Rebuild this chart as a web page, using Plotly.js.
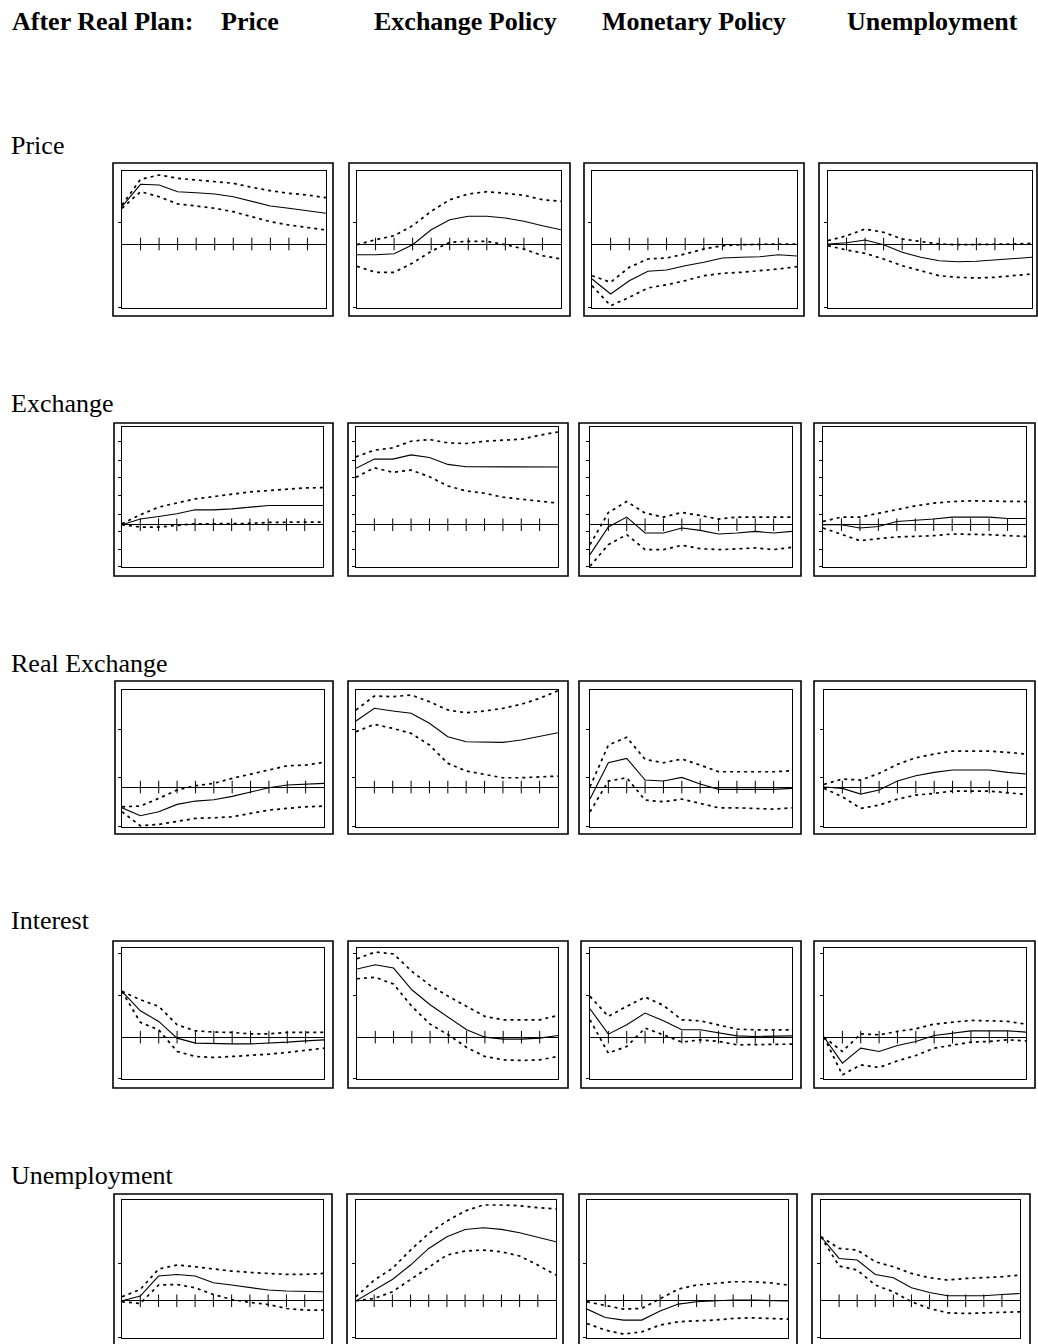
<!DOCTYPE html>
<html>
<head>
<meta charset="utf-8">
<script src="https://cdn.plot.ly/plotly-3.0.1.min.js"></script>
<style>
  html, body { margin: 0; padding: 0; background: #fff; }
  #chart { width: 1038px; height: 1344px; }
</style>
</head>
<body>
<div id="chart"></div>
<script>
// ---------------- DATA ----------------
const periods = [0, 1, 2, 3, 4, 5, 6, 7, 8, 9, 10, 11];
const zeroTicks = [1, 2, 3, 4, 5, 6, 7, 8, 9, 10];
const shockTitles = ["Price", "Exchange Policy", "Monetary Policy", "Unemployment"];
const variableNames = ["Price", "Exchange", "Real Exchange", "Interest", "Unemployment"];
const titlePrefix = "After Real Plan:";

// responses (point estimate, upper band, lower band); one array per shock (column)
const priceMid = [
  [37.3, 59.7, 59, 52.3, 51.3, 50, 47.3, 42.3, 38, 35.7, 33.3, 30.7],
  [-10.7, -10.7, -9.7, -0.7, 14.3, 24.3, 27.7, 27.7, 26, 22.7, 18.3, 14.3],
  [-35, -50, -36.7, -27.3, -26, -21.7, -18.3, -14, -13.3, -12.7, -10.7, -12],
  [0, 1.3, 4, -0.7, -8.3, -13.3, -16.7, -17.7, -17.3, -16, -15, -13.3]
];
const priceUp = [
  [39, 64.7, 69, 65.7, 64, 62.3, 60.7, 56.7, 53.3, 50.7, 49, 46.3],
  [-0.7, 4.3, 8.3, 18.3, 32.7, 44.3, 50, 52.3, 50.7, 48.7, 44.3, 42.7],
  [-31.7, -38.3, -23.3, -15, -14, -10, -5, -1.7, -0.7, 0, 0, 0],
  [3.3, 8.3, 15, 11.7, 5, 2.7, 0, -0.7, -0.7, -0.7, 0, 0.7]
];
const priceLo = [
  [35.7, 52.3, 47.3, 40, 38, 35.7, 32.3, 27.3, 22.3, 19, 16.3, 14],
  [-22.3, -28.3, -28.3, -19, -7.3, 1.7, 2.7, 2.7, -0.7, -5, -11.7, -15],
  [-41.7, -61.7, -53.3, -44, -40.7, -36.7, -31.7, -29.3, -28.3, -26.7, -25, -22.7],
  [-1.7, -6, -9.3, -15, -21.7, -26.7, -31.7, -33.3, -34, -33.3, -31.7, -30]
];

const exchMid = [
  [0, 5.7, 8.3, 11, 15, 15, 16, 17.7, 19.3, 19.3, 19.3, 19.3],
  [56.7, 66, 66, 70.3, 67.7, 60.7, 58.3, 58.3, 57.7, 57.7, 58, 58],
  [-30, -2.3, 7.7, -8.3, -8.3, -3.3, -5.7, -9.3, -8.3, -6.7, -8.3, -6.7],
  [0, 0, -3.3, -1.7, 3.3, 4.3, 5.7, 7.7, 7.7, 7.7, 6.3, 6.3]
];
const exchUp = [
  [1, 10, 17.7, 21.7, 26, 28.3, 31, 33, 34.3, 36, 37, 37.3],
  [68.3, 75, 77.3, 84, 85.7, 82.3, 81.7, 84, 85, 86, 90, 93.3],
  [-20, 12.3, 23.3, 11.7, 7.7, 12.3, 9.3, 5.7, 7.7, 7.7, 7.7, 7.7],
  [3.3, 7.7, 7.7, 11.7, 15.7, 19, 21.7, 23.3, 24, 24, 23.3, 23.3]
];
const exchLo = [
  [0, -2.3, -2.3, -1, 1, 1, 1, 1.3, 2.3, 2.7, 2.7, 2.7],
  [47.7, 57.3, 52.7, 55, 48.3, 39, 34, 31.7, 27.7, 25.7, 23.3, 21.7],
  [-41.7, -20, -10, -25, -25, -20.7, -24, -25, -24.3, -23.3, -25, -22.7],
  [-3.3, -10, -16, -14, -12.3, -11.7, -11, -9.3, -9.3, -10, -11, -11.7]
];

const realMid = [
  [-20.7, -28.7, -24.7, -17.3, -14, -12.7, -9.3, -5.3, -0.7, 2, 2.7, 3.7],
  [66, 78.7, 76, 73.7, 63.7, 50.3, 45.3, 44.7, 44.7, 47, 50.3, 54.3],
  [-12, 24.3, 28.7, 7, 6, 9.7, 3, -2.3, -2.3, -2.3, -2.3, -1.3],
  [0, -1.3, -7, -3, 6, 11.3, 14.7, 17, 17, 17, 14.7, 13]
];
const realUp = [
  [-19.7, -19, -11.3, -3, 1.3, 3.7, 8.7, 12.7, 17, 21.3, 22, 24.7],
  [77, 91, 90.3, 92, 85.3, 77, 74.3, 76, 78.7, 82.7, 88.7, 96.3],
  [0.3, 42, 49.7, 27.7, 24.3, 28, 22, 15.3, 15.3, 15.3, 15.3, 16.3],
  [2.7, 8, 7, 13.7, 22.7, 29.3, 33, 36, 36, 36, 34.7, 33]
];
const realLo = [
  [-24.7, -38.7, -37.3, -34, -31.3, -30.7, -29.7, -26.3, -23, -21.3, -19.7, -19],
  [55.3, 62.7, 58.7, 53.7, 42, 23.7, 16, 12.7, 9.3, 9.3, 10.3, 11],
  [-24.7, 6, 9.3, -13, -14.7, -12, -16.3, -20.7, -20.7, -21.3, -22, -20.7],
  [-1.3, -9.7, -21.3, -18, -12, -8, -6.3, -4, -4, -4, -5.7, -7.3]
];

const interestMid = [
  [45.7, 26.3, 15.7, -1, -6, -6.7, -6.7, -6.7, -6, -5, -3.7, -2.7],
  [68, 72.3, 69, 47.3, 32.3, 19.7, 7.3, 0, -2, -2, -1, 1.7],
  [28.3, 3, 12.3, 24, 16.3, 7.3, 7.3, 4, 1.3, 0.7, 1.3, 1.3],
  [0, -26, -11, -14.3, -8.3, -4.3, 1.7, 4, 6.3, 6.3, 6.3, 5]
];
const interestUp = [
  [45.7, 37.3, 30.7, 12.3, 6.3, 5, 4.7, 3.3, 3.3, 4.7, 4.7, 4.7],
  [78.3, 85, 83, 65.7, 51.7, 40.7, 30.7, 20.7, 17.3, 17.3, 17.3, 21.7],
  [40.7, 20.7, 30.7, 40, 31.7, 17.3, 16.3, 12.3, 8, 7.3, 7.3, 7.3],
  [0, -14.3, 3.3, 2.3, 5.7, 8.3, 13, 15, 16.7, 16.3, 15.7, 13]
];
const interestLo = [
  [45.7, 14.7, 7.3, -14.3, -19.3, -20.3, -19.3, -18.3, -17, -15.3, -13.3, -11],
  [58.3, 59.7, 53, 30.7, 13, 2.3, -10.3, -19.3, -22.7, -23.3, -22.7, -19.3],
  [17.3, -16, -9.3, 9, 2.3, -5, -2.7, -4.3, -7.7, -7.7, -7, -7],
  [0, -37.7, -27.7, -30.3, -23.7, -18.3, -11, -7.7, -5, -4.3, -2.7, -3.7]
];

const unempMid = [
  [0, 4.7, 24.7, 26.3, 24.7, 18, 15.7, 13.3, 10.7, 9.7, 9, 9],
  [0, 10.7, 21.3, 35.7, 52.3, 64, 71.3, 73, 71.3, 68, 63.3, 59],
  [-8.3, -16.7, -19.3, -19.3, -10.3, -3.3, -1, 0, 0.7, 0.7, 0, -0.3],
  [64, 42.3, 40.7, 26.3, 23, 13, 8.3, 5, 5, 5, 6.3, 7.3]
];
const unempUp = [
  [4, 11.3, 31.7, 35.7, 34, 31.7, 29.7, 28.3, 27.3, 26.3, 26.3, 27.3],
  [4, 20.7, 32.3, 50.7, 67.3, 79.7, 89.7, 95.7, 95.7, 95, 93, 91.7],
  [-1, -5, -8.3, -7.7, 2.3, 11.7, 15.7, 17.3, 19, 19, 18, 15.7],
  [64, 52.3, 50.7, 39, 34, 27.3, 23, 20.7, 22.3, 23, 24, 25.7]
];
const unempLo = [
  [-1, -2.7, 15.7, 16.3, 13, 6.3, 1.3, -1.7, -3.7, -7.7, -9.3, -9.3],
  [0, 2.3, 9, 21.3, 34, 45.7, 49.7, 50.7, 49, 44.7, 35.7, 25.7],
  [-22.7, -29.3, -33.3, -31, -24.3, -21, -20, -19.3, -17.7, -17, -17.7, -18.3],
  [64, 34.7, 30.7, 15.7, 9, -1, -7.7, -12, -12.7, -12, -11, -11]
];

// y-axis tick values for each variable (row)
const rowTickVals = [
  [21.5, -63.5],
  [83.3, 65, 47.3, 29, 10.7, -6.7, -25, -42.3],
  [58, 9.7, -39.7],
  [84, 42, -41.5],
  [37.3, -37]
];

// ---------------- LAYOUT CONFIG ----------------
const W = 1038, H = 1344;
const rowData = [
  [priceMid, priceUp, priceLo],
  [exchMid, exchUp, exchLo],
  [realMid, realUp, realLo],
  [interestMid, interestUp, interestLo],
  [unempMid, unempUp, unempLo]
];
const rowRanges = [[-64, 73], [-42.5, 98.3], [-39.9, 97], [-41.8, 89], [-37.2, 100.7]];
const innerY = [[171, 308], [427, 567], [690, 827], [948, 1079], [1200, 1338]];
const outerY = [[163, 316], [423, 576], [681, 834], [941, 1088], [1194, 1352]];
const innerX = [
  [[122, 326], [357, 561], [592, 797], [828, 1032]],
  [[122, 323], [356, 558], [590, 792], [823, 1026]],
  [[122, 324], [356, 558], [590, 792], [824, 1026]],
  [[122, 324], [357, 558], [590, 792], [824, 1026]],
  [[122, 323], [356, 556], [587, 788], [821, 1020]]
];
const outerX = [
  [[113, 333], [349, 570], [584, 804], [819, 1037]],
  [[114, 333], [348, 568], [579, 801], [814, 1035]],
  [[115, 333], [348, 568], [579, 801], [814, 1035]],
  [[113, 333], [348, 568], [581, 801], [814, 1035]],
  [[114, 332], [347, 563], [579, 797], [812, 1030]]
];
const rowLabelY = [145, 403, 663, 920, 1175];

const px = v => v / W;
const py = v => 1 - v / H;

const traces = [];
const layout = {
  width: W, height: H,
  margin: { l: 0, r: 0, t: 0, b: 0 },
  paper_bgcolor: '#ffffff',
  plot_bgcolor: '#ffffff',
  showlegend: false,
  hovermode: false,
  shapes: [],
  annotations: []
};

const bandLine = { color: '#000', width: 1.7, dash: '3px,4px' };
const midLine = { color: '#000', width: 1.1 };

for (let r = 0; r < 5; r++) {
  for (let c = 0; c < 4; c++) {
    const n = r * 4 + c + 1;
    const xa = 'x' + (n > 1 ? n : '');
    const ya = 'y' + (n > 1 ? n : '');
    const [mid, up, lo] = rowData[r];

    traces.push({ x: periods, y: up[c], xaxis: xa, yaxis: ya, mode: 'lines', line: bandLine, cliponaxis: true });
    traces.push({ x: periods, y: lo[c], xaxis: xa, yaxis: ya, mode: 'lines', line: bandLine, cliponaxis: true });
    traces.push({ x: periods, y: mid[c], xaxis: xa, yaxis: ya, mode: 'lines', line: midLine, cliponaxis: true });
    traces.push({
      x: zeroTicks, y: zeroTicks.map(() => 0), xaxis: xa, yaxis: ya, mode: 'markers',
      marker: { symbol: 'line-ns', size: 9, color: '#000', line: { width: 1, color: '#000' } },
      cliponaxis: false
    });

    const ix = innerX[r][c], iy = innerY[r];
    layout['xaxis' + (n > 1 ? n : '')] = {
      domain: [px(ix[0]), px(ix[1])], range: [0, 11], anchor: ya,
      showline: true, mirror: true, linecolor: '#000', linewidth: 1,
      ticks: '', showticklabels: false, showgrid: false, zeroline: false, fixedrange: true
    };
    layout['yaxis' + (n > 1 ? n : '')] = {
      domain: [py(iy[1]), py(iy[0])], range: rowRanges[r], anchor: xa,
      showline: true, mirror: true, linecolor: '#000', linewidth: 1,
      ticks: 'outside', ticklen: 3, tickwidth: 1, tickcolor: '#000',
      tickmode: 'array', tickvals: rowTickVals[r], showticklabels: false,
      showgrid: false, zeroline: true, zerolinecolor: '#000', zerolinewidth: 1, fixedrange: true
    };

    const ox = outerX[r][c], oy = outerY[r];
    layout.shapes.push({
      type: 'rect', xref: 'paper', yref: 'paper',
      x0: px(ox[0]), x1: px(ox[1]), y0: py(oy[1]), y1: py(oy[0]),
      line: { color: '#000', width: 1.6 }, fillcolor: 'rgba(0,0,0,0)', layer: 'above'
    });
  }
}

const serif = 'Liberation Serif, Times New Roman, serif';
// header
const headerItems = [
  { text: titlePrefix, x: 10 },
  { text: shockTitles[0], x: 219 },
  { text: shockTitles[1], x: 372 },
  { text: shockTitles[2], x: 600 },
  { text: shockTitles[3], x: 845 }
];
headerItems.forEach(h => {
  layout.annotations.push({
    text: '<b>' + h.text + '</b>', xref: 'paper', yref: 'paper',
    x: px(h.x), y: py(21), xanchor: 'left', yanchor: 'middle', showarrow: false,
    font: { family: serif, size: 26, color: '#000' }
  });
});
variableNames.forEach((name, i) => {
  layout.annotations.push({
    text: name, xref: 'paper', yref: 'paper',
    x: px(9), y: py(rowLabelY[i]), xanchor: 'left', yanchor: 'middle', showarrow: false,
    font: { family: serif, size: 26, color: '#000' }
  });
});

Plotly.newPlot('chart', traces, layout, { staticPlot: true, displayModeBar: false });
</script>
</body>
</html>
